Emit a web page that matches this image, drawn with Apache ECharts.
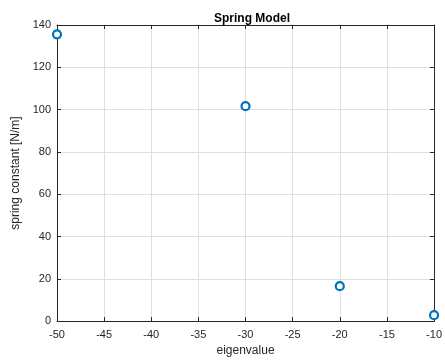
<!DOCTYPE html>
<html><head><meta charset="utf-8">
<script src="https://cdn.jsdelivr.net/npm/echarts@6/dist/echarts.min.js"></script>
<style>html,body{margin:0;padding:0;background:#fff}#c{width:445px;height:362px}</style>
</head><body><div id="c"></div>
<script>
const eigenvalues = [-50, -30, -20, -10];
const springConstants = [135.6, 101.6, 16.5, 2.8];
const xTicks = [-50, -45, -40, -35, -30, -25, -20, -15, -10];
const yTicks = [0, 20, 40, 60, 80, 100, 120, 140];

const chart = echarts.init(document.getElementById('c'), null, {renderer: 'canvas'});
const FONT = '"Liberation Sans", Arial, Helvetica, sans-serif';
const axisCol = '#262626';
const gridCol = '#dfdfdf';
const common = {
  axisLine: {show: true, onZero: false, lineStyle: {color: axisCol, width: 1}},
  axisTick: {show: true, inside: true, length: 4, lineStyle: {color: axisCol}},
  minorTick: {show: false}
};
chart.setOption({
  animation: false,
  backgroundColor: '#fff',
  title: {
    text: 'Spring Model', left: 247, top: 8, textAlign: 'center',
    textStyle: {fontFamily: FONT, fontWeight: 'bold', fontSize: 12, color: '#000'}
  },
  grid: {left: 57, right: 8, top: 25, bottom: 37, containLabel: false},
  xAxis: [
    Object.assign({
      type: 'value', min: xTicks[0], max: xTicks[xTicks.length - 1], interval: 5,
      name: 'eigenvalue', nameLocation: 'middle', nameGap: 23,
      nameTextStyle: {fontFamily: FONT, fontSize: 12, color: axisCol},
      axisLabel: {fontFamily: FONT, fontSize: 11, color: axisCol, margin: 8},
      splitLine: {show: true, lineStyle: {color: gridCol, width: 1}}
    }, common),
    Object.assign({
      type: 'value', position: 'top', min: xTicks[0], max: xTicks[xTicks.length - 1], interval: 5,
      axisLabel: {show: false}, splitLine: {show: false}
    }, common)
  ],
  yAxis: [
    Object.assign({
      type: 'value', min: yTicks[0], max: yTicks[yTicks.length - 1], interval: 20,
      name: 'spring constant [N/m]', nameLocation: 'middle', nameGap: 27,
      nameTextStyle: {fontFamily: FONT, fontSize: 12, color: axisCol},
      axisLabel: {fontFamily: FONT, fontSize: 11, color: axisCol, margin: 6},
      splitLine: {show: true, lineStyle: {color: gridCol, width: 1}}
    }, common),
    Object.assign({
      type: 'value', position: 'right', min: yTicks[0], max: yTicks[yTicks.length - 1], interval: 20,
      axisLabel: {show: false}, splitLine: {show: false}
    }, common)
  ],
  series: [{
    type: 'scatter',
    data: eigenvalues.map((x, i) => [x, springConstants[i]]),
    symbol: 'circle', symbolSize: 8,
    itemStyle: {color: '#fff', borderColor: '#0072BD', borderWidth: 2.2, opacity: 1},
    clip: false, z: 10
  }]
});
</script></body></html>
